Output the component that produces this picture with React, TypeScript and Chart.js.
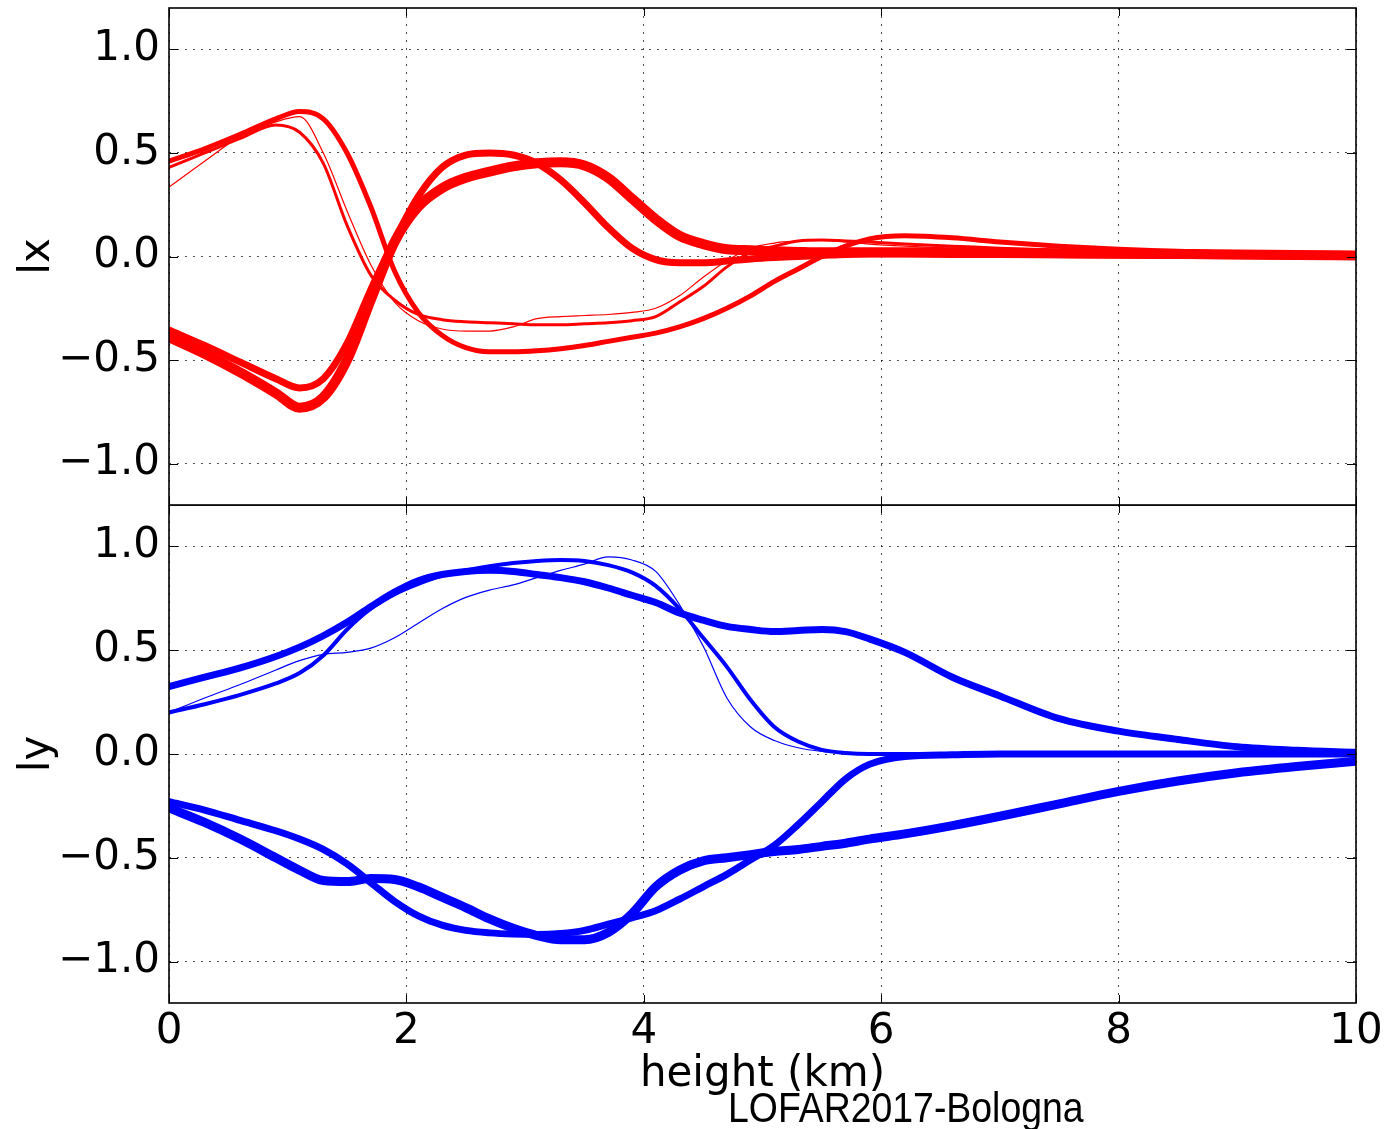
import React, { useEffect, useRef } from "react";
import { Chart, registerables } from "chart.js";

Chart.register(...registerables);

// ---------- data ----------
const HEIGHT_KM = [0, 0.3, 0.6, 0.9, 1.1, 1.3, 1.5, 1.7, 1.9, 2.1, 2.3, 2.5, 2.7, 2.9, 3.1, 3.3, 3.5, 3.7, 3.9, 4.1, 4.3, 4.5, 4.7, 4.9, 5.1, 5.3, 5.5, 5.7, 5.9, 6.2, 6.6, 7.0, 7.5, 8.0, 8.5, 9.0, 9.5, 10];

const X_TICKS = [0, 2, 4, 6, 8, 10];
const Y_TICKS = [-1, -0.5, 0, 0.5, 1];

// lx (red) series
const LX_A = [0.46, 0.52, 0.59, 0.665, 0.70, 0.665, 0.50, 0.24, -0.07, -0.27, -0.38, -0.44, -0.46, -0.46, -0.455, -0.445, -0.43, -0.41, -0.39, -0.37, -0.34, -0.30, -0.25, -0.19, -0.12, -0.06, 0.0, 0.05, 0.085, 0.10, 0.09, 0.07, 0.05, 0.035, 0.025, 0.015, 0.008, 0.005];
const LX_B = [0.43, 0.50, 0.57, 0.635, 0.60, 0.45, 0.15, -0.09, -0.21, -0.28, -0.305, -0.315, -0.32, -0.325, -0.33, -0.33, -0.325, -0.32, -0.31, -0.29, -0.22, -0.145, -0.05, 0.02, 0.05, 0.075, 0.08, 0.075, 0.07, 0.06, 0.05, 0.04, 0.03, 0.02, 0.015, 0.01, 0.005, 0.003];
const LX_C = [0.335, 0.46, 0.58, 0.65, 0.675, 0.50, 0.22, -0.04, -0.22, -0.31, -0.35, -0.36, -0.36, -0.34, -0.30, -0.29, -0.285, -0.28, -0.27, -0.25, -0.19, -0.10, -0.02, 0.04, 0.065, 0.075, 0.08, 0.07, 0.06, 0.05, 0.04, 0.03, 0.025, 0.02, 0.015, 0.01, 0.005, 0.003];
const LX_D = [-0.355, -0.43, -0.51, -0.59, -0.635, -0.59, -0.42, -0.16, 0.08, 0.29, 0.43, 0.49, 0.50, 0.49, 0.45, 0.37, 0.26, 0.14, 0.04, -0.015, -0.03, -0.03, -0.022, -0.012, -0.005, 0.0, 0.005, 0.01, 0.012, 0.012, 0.01, 0.01, 0.008, 0.006, 0.005, 0.004, 0.002, 0.0];
const LX_E = [-0.39, -0.47, -0.56, -0.66, -0.73, -0.68, -0.50, -0.21, 0.07, 0.24, 0.33, 0.38, 0.41, 0.435, 0.45, 0.455, 0.44, 0.38, 0.28, 0.18, 0.10, 0.06, 0.035, 0.03, 0.025, 0.022, 0.02, 0.02, 0.02, 0.02, 0.02, 0.018, 0.016, 0.014, 0.012, 0.01, 0.007, 0.005];

// ly (blue) series
const LY_P = [0.325, 0.37, 0.415, 0.47, 0.515, 0.57, 0.635, 0.71, 0.78, 0.835, 0.865, 0.88, 0.885, 0.88, 0.865, 0.85, 0.83, 0.80, 0.765, 0.73, 0.68, 0.645, 0.615, 0.60, 0.59, 0.595, 0.60, 0.59, 0.555, 0.49, 0.37, 0.28, 0.17, 0.11, 0.07, 0.035, 0.018, 0.008];
const LY_Q = [0.20, 0.24, 0.285, 0.34, 0.39, 0.475, 0.60, 0.70, 0.77, 0.82, 0.86, 0.885, 0.905, 0.92, 0.93, 0.935, 0.93, 0.91, 0.875, 0.81, 0.70, 0.56, 0.42, 0.26, 0.13, 0.06, 0.02, 0.005, 0, 0, 0, 0, 0, 0, 0, 0, 0, 0];
const LY_R = [0.20, 0.27, 0.335, 0.405, 0.45, 0.48, 0.49, 0.51, 0.56, 0.63, 0.70, 0.755, 0.79, 0.815, 0.85, 0.885, 0.915, 0.95, 0.935, 0.88, 0.72, 0.52, 0.27, 0.13, 0.065, 0.03, 0.012, 0.004, 0, 0, 0, 0, 0, 0, 0, 0, 0, 0];
const LY_S = [-0.26, -0.33, -0.41, -0.50, -0.56, -0.61, -0.615, -0.60, -0.605, -0.64, -0.69, -0.74, -0.795, -0.84, -0.875, -0.895, -0.895, -0.86, -0.77, -0.64, -0.56, -0.515, -0.50, -0.485, -0.47, -0.46, -0.445, -0.43, -0.41, -0.385, -0.345, -0.30, -0.24, -0.18, -0.13, -0.09, -0.06, -0.035];
const LY_T = [-0.23, -0.27, -0.32, -0.37, -0.41, -0.46, -0.53, -0.62, -0.71, -0.78, -0.825, -0.85, -0.862, -0.868, -0.87, -0.865, -0.85, -0.82, -0.79, -0.755, -0.70, -0.64, -0.58, -0.51, -0.44, -0.34, -0.23, -0.12, -0.05, -0.012, -0.004, 0, 0, 0, 0, 0, 0, 0];

const RED_SERIES = [LX_E, LX_D, LX_A, LX_B, LX_C];
const RED_WIDTHS = [10, 7, 5, 3, 1.2];
const BLUE_SERIES = [LY_S, LY_T, LY_P, LY_Q, LY_R];
const BLUE_WIDTHS = [9, 7, 7, 4, 1.2];

// ---------- helpers ----------
const FONT = "'DejaVu Sans', sans-serif";
const fmtY = (v: number) => (v < 0 ? "\u2212" : "") + Math.abs(v).toFixed(1);

const framePlugin = {
  id: "frame",
  afterDraw(chart: any) {
    const { ctx, chartArea, scales } = chart;
    const { left, right, top, bottom } = chartArea;
    const x = scales.x;
    const y = scales.y;
    ctx.save();
    ctx.strokeStyle = "#000";
    ctx.lineWidth = 1;
    ctx.beginPath();
    X_TICKS.forEach((v) => {
      const px = Math.round(x.getPixelForValue(v)) + 0.5;
      ctx.moveTo(px, bottom);
      ctx.lineTo(px, bottom - 8);
      ctx.moveTo(px, top);
      ctx.lineTo(px, top + 8);
    });
    Y_TICKS.forEach((v) => {
      const py = Math.round(y.getPixelForValue(v)) + 0.5;
      ctx.moveTo(left, py);
      ctx.lineTo(left + 9, py);
      ctx.moveTo(right, py);
      ctx.lineTo(right - 9, py);
    });
    ctx.stroke();
    ctx.lineWidth = 1.6;
    ctx.strokeRect(left, top, right - left, bottom - top);
    ctx.restore();
  },
};

function makeConfig(series: number[][], widths: number[], color: string, yTitle: string, showX: boolean) {
  const datasets = series.map((vals, i) => ({
    data: HEIGHT_KM.map((h, k) => ({ x: h, y: vals[k] })),
    borderColor: color,
    backgroundColor: color,
    borderWidth: widths[i],
    pointRadius: 0,
    cubicInterpolationMode: "monotone" as const,
    borderCapStyle: "round" as const,
    borderJoinStyle: "round" as const,
    fill: false,
  }));
  return {
    type: "line" as const,
    data: { datasets },
    plugins: [framePlugin],
    options: {
      animation: false as const,
      responsive: false,
      maintainAspectRatio: false,
      events: [],
      layout: {
        padding: showX
          ? { top: 0, right: 31, bottom: 0, left: 0 }
          : { top: 8, right: 31, bottom: 5, left: 0 },
      },
      plugins: { legend: { display: false }, tooltip: { enabled: false }, title: { display: false } },
      scales: {
        x: {
          type: "linear" as const,
          min: 0,
          max: 10,
          afterBuildTicks: (s: any) => {
            s.ticks = X_TICKS.map((v) => ({ value: v }));
          },
          afterFit: (s: any) => {
            s.height = showX ? 126 : 0;
            s.paddingLeft = 0;
            s.paddingRight = 0;
            s.paddingTop = 0;
            s.paddingBottom = 0;
          },
          grid: { display: true, drawTicks: false, color: "rgba(0,0,0,0.7)", lineWidth: 1 },
          border: { display: false, dash: [2, 6] },
          ticks: {
            display: showX,
            maxRotation: 0,
            autoSkip: false,
            padding: 4,
            color: "#000",
            font: { family: FONT, size: 42 },
            callback: (v: any) => String(v),
          },
          title: {
            display: showX,
            text: "height (km)",
            color: "#000",
            font: { family: FONT, size: 42 },
            padding: { top: 0, bottom: 29 },
          },
        },
        y: {
          type: "linear" as const,
          min: -1.2,
          max: 1.2,
          afterBuildTicks: (s: any) => {
            s.ticks = Y_TICKS.map((v) => ({ value: v }));
          },
          afterFit: (s: any) => {
            s.width = 169;
            s.paddingTop = 0;
            s.paddingBottom = 0;
            s.paddingLeft = 0;
            s.paddingRight = 0;
          },
          grid: { display: true, drawTicks: false, color: "rgba(0,0,0,0.7)", lineWidth: 1 },
          border: { display: false, dash: [2, 6] },
          ticks: {
            padding: 9,
            color: "#000",
            font: { family: FONT, size: 42 },
            callback: (v: any) => fmtY(Number(v)),
          },
          title: {
            display: true,
            text: yTitle,
            color: "#000",
            font: { family: FONT, size: 42 },
            padding: { top: 13, bottom: 0 },
          },
        },
      },
    },
  };
}

export default function App() {
  const topRef = useRef<HTMLCanvasElement | null>(null);
  const botRef = useRef<HTMLCanvasElement | null>(null);

  useEffect(() => {
    const c1 = new Chart(topRef.current as HTMLCanvasElement, makeConfig(RED_SERIES, RED_WIDTHS, "#ff0000", "lx", false) as any);
    const c2 = new Chart(botRef.current as HTMLCanvasElement, makeConfig(BLUE_SERIES, BLUE_WIDTHS, "#0000ff", "ly", true) as any);
    return () => {
      c1.destroy();
      c2.destroy();
    };
  }, []);

  return (
    <div style={{ position: "absolute", left: 0, top: 0, width: 1387, height: 1129, background: "#fff", overflow: "hidden" }}>
      <canvas
        ref={topRef}
        width={1387}
        height={510}
        style={{ position: "absolute", left: 0, top: 0, width: 1387, height: 510 }}
      />
      <canvas
        ref={botRef}
        width={1387}
        height={624}
        style={{ position: "absolute", left: 0, top: 505, width: 1387, height: 624 }}
      />
      <div
        style={{
          position: "absolute",
          left: 728,
          top: 1086,
          fontFamily: "'Liberation Sans', Arial, sans-serif",
          fontSize: 43,
          lineHeight: "43px",
          color: "#000",
          whiteSpace: "nowrap",
          transform: "scaleX(0.87)",
          transformOrigin: "left top",
        }}
      >
        LOFAR2017-Bologna
      </div>
    </div>
  );
}
